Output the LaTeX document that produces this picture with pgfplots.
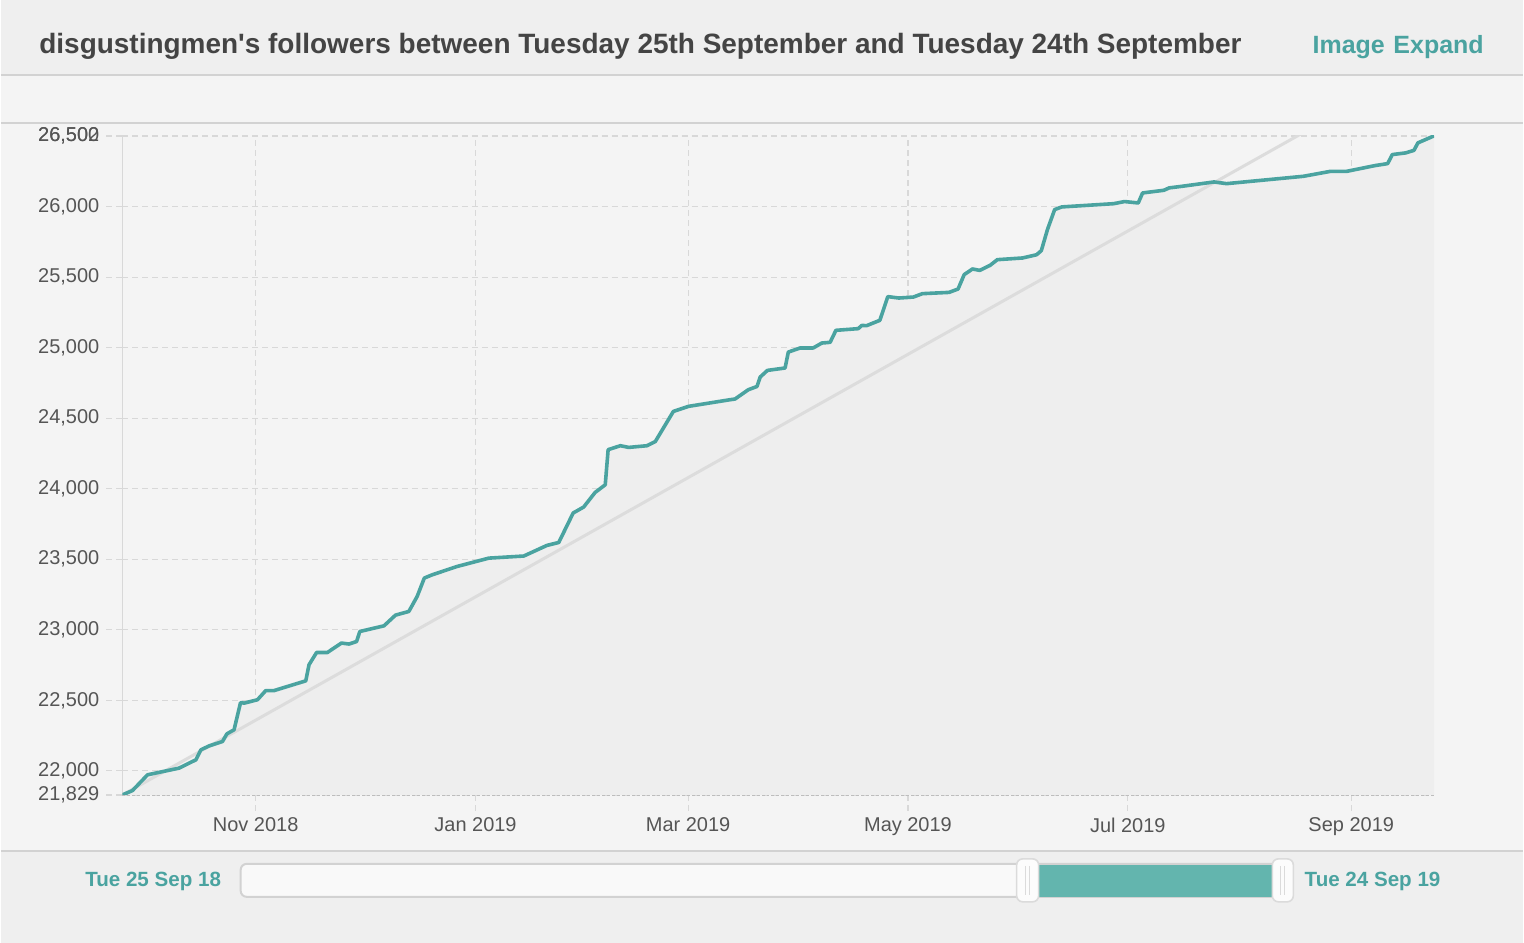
\documentclass[border=0pt]{standalone}
\usepackage{fontspec}
\setmainfont{Liberation Sans}
\usepackage{pgfplots}
\usepackage{pgfplotstable}
\pgfplotsset{compat=1.18}

\definecolor{hdrbg}{HTML}{EFEFEF}
\definecolor{plotbg}{HTML}{F4F4F4}
\definecolor{sepline}{HTML}{D2D2D2}
\definecolor{titlecol}{HTML}{444444}
\definecolor{teal}{HTML}{4AA3A0}
\definecolor{slidecol}{HTML}{63B5AE}
\definecolor{areacol}{HTML}{EEEEEE}
\definecolor{gridcol}{HTML}{D8D8D8}
\definecolor{axiscol}{HTML}{BDBDBD}
\definecolor{trendcol}{HTML}{DCDCDC}
\definecolor{tickcol}{HTML}{555555}

% day = days since Tue 25 Sep 2018
\pgfplotstableread{
day followers
0 21829
2.8 21860
7.0 21972
15.7 22019
20.4 22078
21.8 22149
24.1 22177
27.8 22208
29.0 22262
31.0 22291
32.8 22484
33.8 22480
37.5 22504
39.8 22569
42.1 22569
50.9 22638
51.8 22752
53.9 22839
56.9 22839
60.8 22906
62.9 22899
65.0 22917
65.9 22988
72.6 23028
75.8 23104
79.5 23130
81.8 23236
83.8 23367
86.0 23390
92.9 23449
101.7 23508
111.4 23523
117.8 23598
121.1 23619
125.1 23828
128.0 23870
131.2 23974
134.0 24028
134.8 24277
138.2 24305
140.5 24293
145.6 24305
147.9 24335
152.9 24548
157.1 24584
168.6 24631
170.0 24636
173.7 24702
176.1 24725
177.0 24792
179.0 24839
183.9 24856
184.8 24969
188.1 24998
191.7 24998
194.1 25033
196.4 25038
198.0 25123
204.2 25135
205.2 25158
206.5 25156
210.2 25194
212.4 25362
215.5 25352
219.5 25359
222.0 25383
229.4 25392
231.9 25416
233.6 25518
235.9 25558
237.9 25548
240.8 25584
242.8 25624
249.8 25636
253.7 25659
255.0 25688
256.7 25837
258.7 25979
260.7 25998
275.1 26021
278.1 26036
281.9 26026
283.1 26097
289.0 26116
290.5 26133
294.0 26144
302.9 26175
306.4 26163
327.7 26215
335.2 26250
339.7 26250
347.6 26291
351.1 26305
352.4 26369
356.1 26381
358.4 26399
359.5 26452
364 26502
}\followers

\begin{document}
\begin{tikzpicture}
% page frame, header and range slider (pixel grid, y downwards)
\begin{scope}[x=0.5pt,y=-0.5pt,shift={(0,472pt)}]
  \fill[hdrbg] (0,0) rectangle (1524,75);
  \fill[plotbg] (0,75) rectangle (1524,852);
  \fill[hdrbg] (0,852) rectangle (1524,944);
  \draw[sepline,line width=1pt] (0,75)--(1524,75);
  \draw[sepline,line width=1pt] (0,123)--(1524,123);
  \draw[sepline,line width=1pt] (0,852)--(1524,852);
  \node[anchor=base west,inner sep=0pt,text=titlecol,font=\bfseries\fontsize{14}{16}\selectfont]
    at (38,54) {disgustingmen\textquotesingle s followers between Tuesday 25th September and Tuesday 24th September};
  \node[anchor=base west,inner sep=0pt,text=teal,font=\bfseries\fontsize{12.5}{15}\selectfont]
    at (1313,54) {Image};
  \node[anchor=base east,inner sep=0pt,text=teal,font=\bfseries\fontsize{12.5}{15}\selectfont]
    at (1485,54) {Expand};
  % slider
  \draw[draw=sepline,fill=white!60!hdrbg,rounded corners=3pt,line width=1pt] (240,865) rectangle (1280,898);
  \fill[slidecol] (1039,866) rectangle (1273,898);
  \foreach \a/\b in {1017/1039,1273/1294}{
    \draw[draw=sepline!80,fill=white!70!plotbg,rounded corners=3pt,line width=0.8pt] (\a,860) rectangle (\b,903);
    \draw[sepline!80,line width=0.6pt] ({(\a+\b)/2-2},867) -- ({(\a+\b)/2-2},896);
    \draw[sepline!80,line width=0.6pt] ({(\a+\b)/2+2},867) -- ({(\a+\b)/2+2},896);
  }
  \node[anchor=base west,inner sep=0pt,text=teal,font=\bfseries\fontsize{10.3}{12}\selectfont]
    at (84,888) {Tue 25 Sep 18};
  \node[anchor=base west,inner sep=0pt,text=teal,font=\bfseries\fontsize{10.3}{12}\selectfont]
    at (1305,888) {Tue 24 Sep 19};
\end{scope}

\begin{axis}[
    at={(60.75pt,74pt)}, anchor=south west,
    scale only axis,
    width=656.75pt, height=330pt,
    xmin=0, xmax=364,
    ymin=21829, ymax=26502,
    scaled y ticks=false,
    xtick={37,98,157,218,279,341},
    xticklabels={Nov 2018,Jan 2019,Mar 2019,May 2019,Jul 2019,Sep 2019},
    ytick={21829,22000,22500,23000,23500,24000,24500,25000,25500,26000,26500,26502},
    yticklabels={{21,829},{22,000},{22,500},{23,000},{23,500},{24,000},{24,500},{25,000},{25,500},{26,000},{26,500},{26,502}},
    xmajorgrids, ymajorgrids,
    grid style={gridcol, dash pattern=on 3pt off 2pt, line width=0.6pt},
    axis x line*=bottom, axis y line*=left,
    x axis line style={-, draw=axiscol, dash pattern=on 1.5pt off 1pt, line width=0.9pt},
    y axis line style={-, draw=gridcol, line width=0.8pt},
    tick align=outside, major tick length=8pt,
    tick style={gridcol, dash pattern=on 3pt off 2pt, line width=0.6pt},
    ticklabel style={font=\fontsize{10}{12}\selectfont, text=tickcol},
]
\addplot[draw=none, fill=areacol] table {\followers} \closedcycle;
\addplot[trendcol, line width=1.5pt] coordinates {(0,21829) (364,27045)};
\addplot[teal, line width=1.8pt, line join=round] table {\followers};
\end{axis}
\end{tikzpicture}
\end{document}
